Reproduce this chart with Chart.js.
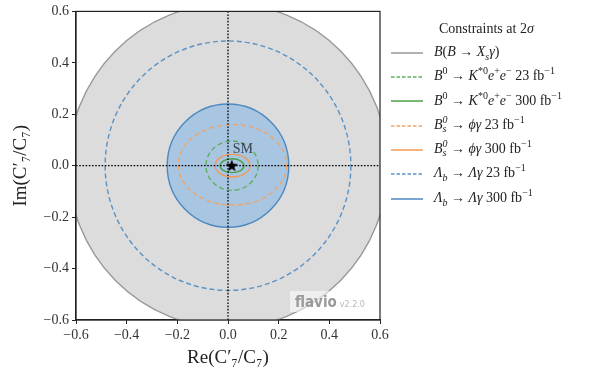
<!DOCTYPE html>
<html>
<head>
<meta charset="utf-8">
<script src="https://cdn.jsdelivr.net/npm/chart.js@4"></script>
<style>
  body { margin: 0; background: #fff; }
  #wrap { position: relative; width: 606px; height: 371px; }
  #legend { position: absolute; left: 390px; top: 18px; font-family: "Liberation Serif", "DejaVu Serif", serif; font-size: 14px; color: #222; }
  #legend .title { margin-left: 49px; height: 22px; line-height: 22px; }
  #legend .row { height: 24.3px; line-height: 24px; white-space: nowrap; }
  #legend svg { vertical-align: middle; margin-right: 10px; }
  #legend sup, #legend sub { font-size: 10px; line-height: 0; }
  .ss { display: inline-block; vertical-align: middle; line-height: 9px; font-size: 10px; font-style: italic; margin-top: -4px; }
  .ss span { display: block; }
</style>
</head>
<body>
<div id="wrap">
  <canvas id="grafico" width="606" height="371"></canvas>
  <div id="legend"></div>
</div>
<script>
// contornos a 2 sigma: centro e semi-eixos em unidades de Re/Im(C7'/C7)
const contourNames = [
  "<i>B</i>(<i>B</i> → <i>X<sub>s</sub>γ</i>)",
  "<i>B</i><sup>0</sup> → <i>K</i><sup>*0</sup><i>e</i><sup>+</sup><i>e</i><sup>−</sup> 23 fb<sup>−1</sup>",
  "<i>B</i><sup>0</sup> → <i>K</i><sup>*0</sup><i>e</i><sup>+</sup><i>e</i><sup>−</sup> 300 fb<sup>−1</sup>",
  "<i>B</i><span class='ss'><span>0</span><span>s</span></span> → <i>ϕγ</i> 23 fb<sup>−1</sup>",
  "<i>B</i><span class='ss'><span>0</span><span>s</span></span> → <i>ϕγ</i> 300 fb<sup>−1</sup>",
  "<i>Λ<sub>b</sub></i> → <i>Λγ</i> 23 fb<sup>−1</sup>",
  "<i>Λ<sub>b</sub></i> → <i>Λγ</i> 300 fb<sup>−1</sup>"
];
const contourCx = [0, 0.016, 0.016, 0.018, 0.018, 0, 0];
const contourCy = [0, 0, 0, 0.003, 0, 0, 0];
const contourRx = [0.63, 0.103, 0.047, 0.214, 0.069, 0.485, 0.24];
const contourRy = [0.63, 0.096, 0.027, 0.157, 0.044, 0.485, 0.24];

const smPoint = [{ x: 0.015, y: 0 }];
const smLabel = { x: 0.019, y: 0.064, text: "SM" };
const tickValues = [-0.6, -0.4, -0.2, 0.0, 0.2, 0.4, 0.6];

const cores = ["#999999", "#5fae5f", "#4aa04a", "#f0a46a", "#f29a55", "#5b92c4", "#4d88c0"];
const tracos = [[], [5, 3], [], [5, 3], [], [5, 3], []];
const preenchimentos = ["#dcdcdc", null, null, null, null, null, "rgba(140,186,228,0.65)"];

const ordemDesenho = [0, 6, 5, 3, 1, 4, 2];

function fmt(v) {
  const s = Math.abs(v).toFixed(1);
  return v < -1e-9 ? "\u2212" + s : s;
}

// estrela preenchida para o ponto SM
const estrela = document.createElement("canvas");
estrela.width = 14; estrela.height = 14;
(function () {
  const c = estrela.getContext("2d");
  c.beginPath();
  for (let i = 0; i < 10; i++) {
    const r = i % 2 === 0 ? 6.5 : 2.7;
    const a = -Math.PI / 2 + i * Math.PI / 5;
    const px = 7 + r * Math.cos(a), py = 7.3 + r * Math.sin(a);
    i === 0 ? c.moveTo(px, py) : c.lineTo(px, py);
  }
  c.closePath();
  c.fillStyle = "#000";
  c.fill();
})();

const contornos = {
  id: "contornos",
  beforeDatasetsDraw(chart) {
    const { ctx, chartArea, scales } = chart;
    const x = scales.x, y = scales.y;
    ctx.save();
    ctx.beginPath();
    ctx.rect(chartArea.left, chartArea.top, chartArea.right - chartArea.left, chartArea.bottom - chartArea.top);
    ctx.clip();
    ordemDesenho.forEach((i) => {
      const cx = x.getPixelForValue(contourCx[i]);
      const cy = y.getPixelForValue(contourCy[i]);
      const rx = Math.abs(x.getPixelForValue(contourCx[i] + contourRx[i]) - cx);
      const ry = Math.abs(y.getPixelForValue(contourCy[i] + contourRy[i]) - cy);
      ctx.beginPath();
      ctx.ellipse(cx, cy, rx, ry, 0, 0, Math.PI * 2);
      if (preenchimentos[i]) {
        ctx.fillStyle = preenchimentos[i];
        ctx.fill();
      }
      ctx.setLineDash(tracos[i]);
      ctx.strokeStyle = cores[i];
      ctx.lineWidth = 1.4;
      ctx.stroke();
    });
    ctx.restore();
  },
  afterDatasetsDraw(chart) {
    const { ctx, scales } = chart;
    ctx.save();
    ctx.font = "14px 'Liberation Serif', serif";
    ctx.fillStyle = "#3b4657";
    ctx.textBaseline = "middle";
    ctx.fillText(smLabel.text, scales.x.getPixelForValue(smLabel.x), scales.y.getPixelForValue(smLabel.y));
    ctx.restore();
  },
  afterDraw(chart) {
    const { ctx, chartArea: a } = chart;
    ctx.save();
    // marca d'agua
    ctx.fillStyle = "rgba(255,255,255,0.55)";
    ctx.fillRect(a.right - 90, a.bottom - 29, 78, 21);
    ctx.textBaseline = "alphabetic";
    ctx.font = "bold 15px 'DejaVu Sans Condensed', 'DejaVu Sans', sans-serif";
    ctx.fillStyle = "#9a9a9a";
    ctx.fillText("flavio", a.right - 85, a.bottom - 13);
    const w = ctx.measureText("flavio").width;
    ctx.font = "8px 'DejaVu Sans', sans-serif";
    ctx.fillStyle = "#b8b8b8";
    ctx.fillText("v2.2.0", a.right - 85 + w + 3, a.bottom - 13);
    // moldura
    ctx.strokeStyle = "#222";
    ctx.lineWidth = 1.2;
    ctx.strokeRect(a.left, a.top, a.right - a.left, a.bottom - a.top);
    ctx.restore();
  }
};

const eixo = (titulo) => ({
  type: "linear",
  min: -0.6,
  max: 0.6,
  afterBuildTicks: (s) => { s.ticks = tickValues.map((v) => ({ value: v })); },
  ticks: {
    callback: (v) => fmt(v),
    color: "#333",
    font: { family: "'Liberation Serif', serif", size: 14 },
    padding: 3
  },
  grid: { drawOnChartArea: false, drawTicks: true, tickLength: 4, color: "#222", lineWidth: 1 },
  border: { display: true, color: "#222", width: 1.2 },
  title: {
    display: true,
    text: titulo,
    color: "#222",
    font: { family: "'Liberation Serif', serif", size: 19 },
    padding: { top: 0, bottom: 2 }
  }
});

const xAxis = eixo("Re(C\u2032\u2087/C\u2087)");
xAxis.afterFit = (s) => { s.height = 51; };
const yAxis = eixo("Im(C\u2032\u2087/C\u2087)");
yAxis.afterFit = (s) => { s.width = 66; };

new Chart(document.getElementById("grafico").getContext("2d"), {
  type: "scatter",
  data: {
    datasets: [
      {
        data: [{ x: -0.6, y: 0 }, { x: 0.6, y: 0 }],
        showLine: true, pointRadius: 0, borderColor: "#000", borderWidth: 1.3, borderDash: [1.6, 1.6]
      },
      {
        data: [{ x: 0, y: -0.6 }, { x: 0, y: 0.6 }],
        showLine: true, pointRadius: 0, borderColor: "#000", borderWidth: 1.3, borderDash: [1.6, 1.6]
      },
      {
        data: smPoint, pointStyle: estrela, pointRadius: 7
      }
    ]
  },
  options: {
    responsive: false,
    animation: false,
    layout: { padding: { left: 10, top: 9, right: 226, bottom: 0 } },
    plugins: { legend: { display: false }, tooltip: { enabled: false } },
    scales: { x: xAxis, y: yAxis }
  },
  plugins: [contornos]
});

// legenda
const legenda = document.getElementById("legend");
let html = '<div class="title">Constraints at 2<i>σ</i></div>';
contourNames.forEach((nome, i) => {
  const dash = tracos[i].length ? 'stroke-dasharray="3.5 2"' : "";
  html += `<div class="row"><svg width="34" height="6"><line x1="1" y1="3" x2="33" y2="3" stroke="${cores[i]}" stroke-width="1.5" ${dash}/></svg>${nome}</div>`;
});
legenda.innerHTML = html;
</script>
</body>
</html>
